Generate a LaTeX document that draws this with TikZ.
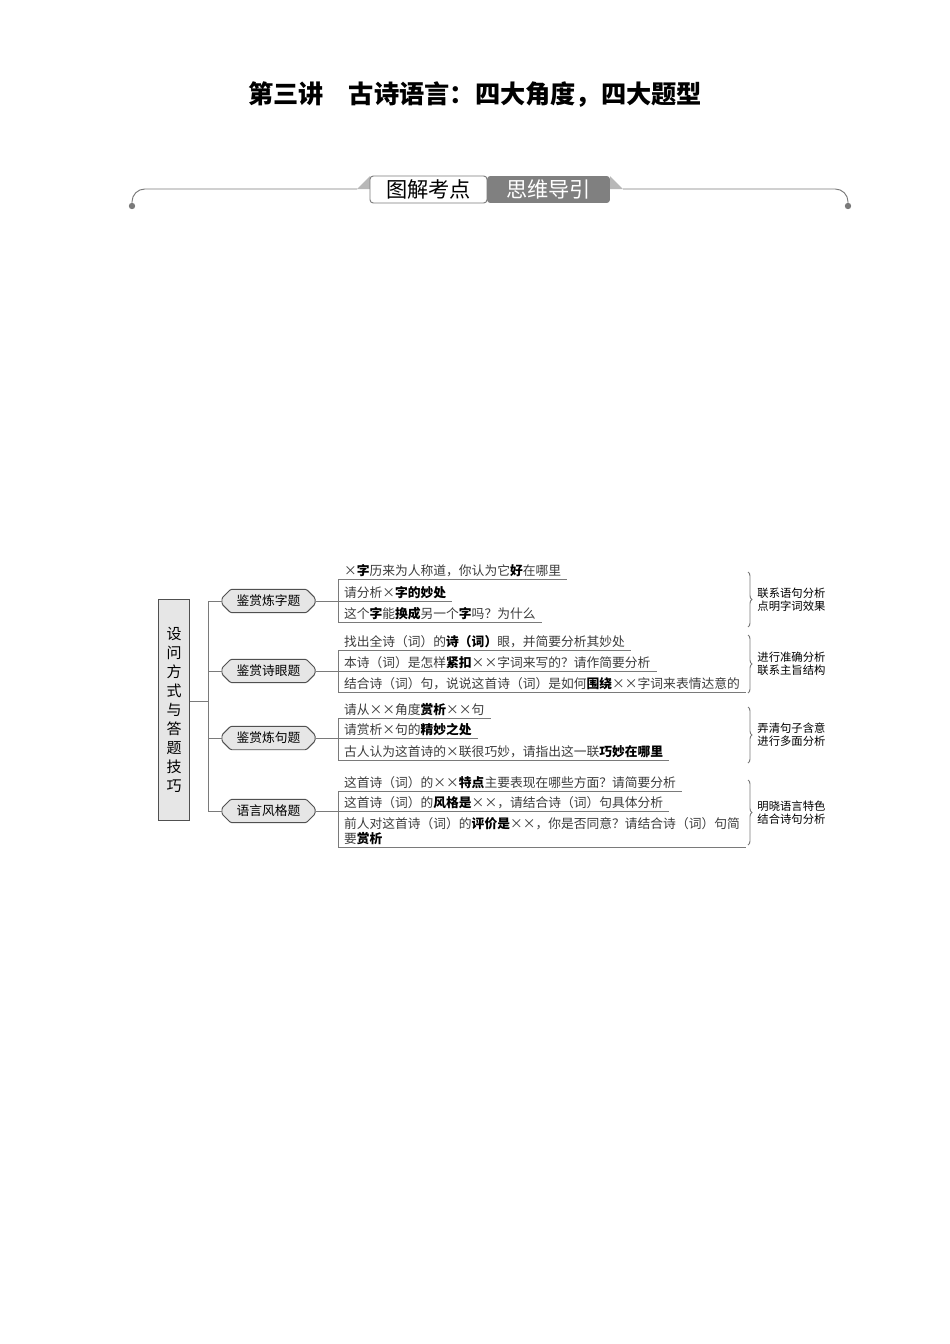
\documentclass[tikz,border=0pt]{standalone}
\usepackage{fontspec}
\setmainfont{Noto Sans CJK SC}
\usetikzlibrary{shapes.misc,decorations.pathreplacing}
\definecolor{lineGray}{HTML}{7A7A7A}
\definecolor{edgeGray}{HTML}{505050}
\definecolor{boxFill}{HTML}{E6E6E6}
\definecolor{tabGray}{HTML}{808080}
\definecolor{wedgeGray}{HTML}{B8B8B8}
\definecolor{textGray}{HTML}{3C3C3C}
\newcommand{\crs}{\makebox[1em]{×}}
\newcommand{\kw}[1]{{\bfseries\color{black}#1}}
\tikzstyle{mindmap}=[%
    every path/.style = {%
		lineGray,
		line width=0.6pt
    },%
	mainBox/.style={%
		draw=edgeGray,
		fill=boxFill,
		text=black,
		align=center,
		minimum width=20pt,
		minimum height=137.9pt,
		inner sep=0pt,
		font=\fontsize{9.4}{11.9}\selectfont
	},
	branchBox/.style={%
		chamfered rectangle,
		chamfered rectangle angle=45,
		chamfered rectangle xsep=1.8pt,
		rounded corners=0.8pt,
		draw=edgeGray,
		fill=boxFill,
		text=black,
		minimum width=58.3pt,
		minimum height=10pt,
		inner sep=0pt,
		font=\fontsize{8}{9}\selectfont
	},
	tabBox/.style={%
		rounded corners=2pt,
		minimum width=73.3pt,
		minimum height=16.9pt,
		inner sep=0pt,
		font=\fontsize{13.3}{15}\selectfont
	},
	itemLine/.style={%
		anchor=south west,
		inner xsep=3.5pt,
		inner ysep=0.5pt,
		text depth=1.2pt,
		text=textGray,
		font=\fontsize{8}{8.1}\selectfont
	},
	noteText/.style={%
		anchor=west,
		align=left,
		inner sep=0pt,
		text=black,
		font=\fontsize{7.1}{8.1}\selectfont
	},
	braceLine/.style={%
		decorate,
		decoration={brace, amplitude=2.5pt}
	}
]

\begin{document}
\begin{tikzpicture}[
	x=0.6266pt,
	y=-0.6266pt,
	mindmap
]
	\useasboundingbox (0,0) rectangle (950,1344);

	\node[text=black, font=\bfseries\fontsize{15.8}{18}\selectfont] (title) at (475,95)
		{第三讲\quad 古诗语言：四大角度，四大题型};

	\fill[wedgeGray] (357,189) -- (370,176) -- (370,189) -- cycle;
	\fill[wedgeGray] (610,176) -- (623,189) -- (610,189) -- cycle;
	\draw[rounded corners=8pt] (132,206) |- (357,189);
	\draw[rounded corners=8pt] (623,189) -| (848,206);
	\fill (132,206) circle (2pt);
	\fill (848,206) circle (2pt);
	\node[tabBox, draw=lineGray, fill=white, text=black] (tabA) at (428.5,189.5) {图解考点};
	\node[tabBox, fill=tabGray, text=white, minimum width=77pt] (tabB) at (548.5,189.5) {思维导引};

	\node[mainBox] (lbox) at (174,710) {设\\问\\方\\式\\与\\答\\题\\技\\巧};
	\coordinate (joint) at (208,701);

	\node[branchBox] (b1) at (268.5,601) {鉴赏炼字题};
	\node[branchBox] (b2) at (268.5,671) {鉴赏诗眼题};
	\node[branchBox] (b3) at (268.5,738) {鉴赏炼句题};
	\node[branchBox] (b4) at (268.5,811) {语言风格题};

	\draw (lbox.east |- joint) -- (joint);
	\draw (b1.west) -| (joint |- b4.west) -- (b4.west);
	\draw (b2.west) -- (joint |- b2.west);
	\draw (b3.west) -- (joint |- b3.west);

	\node[itemLine] (i11) at (338,579) {\crs\kw{字}历来为人称道，你认为它\kw{好}在哪里};
	\node[itemLine] (i12) at (338,601) {请分析\crs\kw{字的妙处}};
	\node[itemLine] (i13) at (338,622) {这个\kw{字}能\kw{换成}另一个\kw{字}吗？为什么};

	\node[itemLine] (i21) at (338,650) {找出全诗（词）的\kw{诗（词）}眼，并简要分析其妙处};
	\node[itemLine] (i22) at (338,671) {本诗（词）是怎样\kw{紧扣}\crs\crs 字词来写的？请作简要分析};
	\node[itemLine] (i23) at (338,692) {结合诗（词）句，说说这首诗（词）是如何\kw{围绕}\crs\crs 字词来表情达意的};

	\node[itemLine] (i31) at (338,718) {请从\crs\crs 角度\kw{赏析}\crs\crs 句};
	\node[itemLine] (i32) at (338,738) {请赏析\crs 句的\kw{精妙之处}};
	\node[itemLine] (i33) at (338,760) {古人认为这首诗的\crs 联很巧妙，请指出这一联\kw{巧妙在哪里}};

	\node[itemLine] (i41) at (338,791) {这首诗（词）的\crs\crs\kw{特点}主要表现在哪些方面？请简要分析};
	\node[itemLine] (i42) at (338,811) {这首诗（词）的\kw{风格是}\crs\crs，请结合诗（词）句具体分析};
	\node[itemLine] (i43) at (338,847) {\begin{tabular}[b]{@{}l@{}}前人对这首诗（词）的\kw{评价是}\crs\crs，你是否同意？请结合诗（词）句简\\要\kw{赏析}\end{tabular}};

	\foreach \g in {1,...,4} {
		\foreach \i in {1,2,3} {
			\draw (i\g\i.south west) -- (i\g\i.south east);
		}
		\draw (i\g1.south west) -- (i\g3.south west);
		\draw (b\g.east) -- (i\g2.south west);
	}

	\foreach \top/\bot/\txt [count=\g] in {%
		572/627/{联系语句分析\\点明字词效果},
		635/693/{进行准确分析\\联系主旨结构},
		707/763/{弄清句子含意\\进行多面分析},
		780/845/{明晓语言特色\\结合诗句分析}} {
		\draw[braceLine] (748,\top) -- (748,\bot);
		\node[noteText] (n\g) at (757,{(\top+\bot)/2}) {\txt};
	}
\end{tikzpicture}
\end{document}
